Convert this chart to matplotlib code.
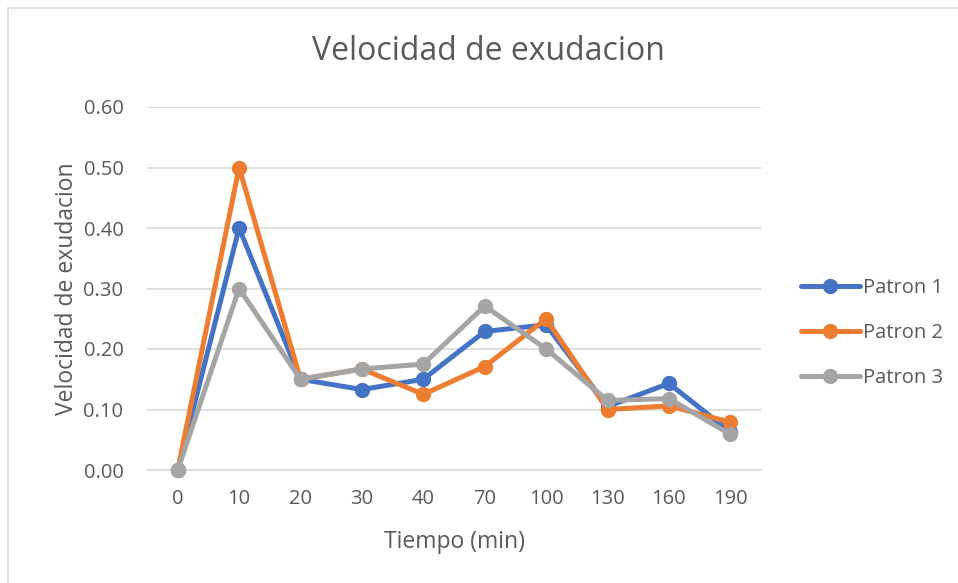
import matplotlib.pyplot as plt
from matplotlib.patches import Rectangle

plt.rcParams['font.family'] = ['Open Sans', 'DejaVu Sans']

tiempo = ['0', '10', '20', '30', '40', '70', '100', '130', '160', '190']
patron_1 = [0.0, 0.40, 0.150, 0.133, 0.150, 0.229, 0.240, 0.105, 0.143, 0.063]
patron_2 = [0.0, 0.50, 0.150, 0.167, 0.125, 0.171, 0.250, 0.100, 0.106, 0.079]
patron_3 = [0.0, 0.30, 0.150, 0.167, 0.175, 0.271, 0.200, 0.115, 0.118, 0.059]
y_ticks = [0.0, 0.1, 0.2, 0.3, 0.4, 0.5, 0.6]

series = [('Patron 1', patron_1, '#4472c4'),
          ('Patron 2', patron_2, '#ed7d31'),
          ('Patron 3', patron_3, '#a5a5a5')]

text_color = '#595959'
grid_color = '#d9d9d9'

fig = plt.figure(figsize=(9.58, 5.83), dpi=100)
fig.patches.append(Rectangle((8 / 958, -0.1), 1.2, 1 - 8 / 583 + 0.1,
                             transform=fig.transFigure, fill=False,
                             edgecolor=grid_color, linewidth=1.2))

ax = fig.add_axes([147 / 958, 1 - 470 / 583, 614 / 958, 363 / 583])
x = range(len(tiempo))
for name, vals, color in series:
    ax.plot(x, vals, color=color, linewidth=3.6, marker='o', markersize=10,
            label=name, clip_on=False, zorder=3, solid_capstyle='round')

ax.set_xlim(-0.5, len(tiempo) - 0.5)
ax.set_ylim(0, 0.6)
ax.set_xticks(list(x))
ax.set_xticklabels(tiempo)
ax.set_yticks(y_ticks)
ax.set_yticklabels([f'{v:.2f}' for v in y_ticks])
ax.tick_params(length=0, labelsize=14.5, colors=text_color)
ax.tick_params(axis='x', pad=14)
ax.tick_params(axis='y', pad=17)
ax.yaxis.grid(True, color=grid_color, linewidth=1.2)
ax.set_axisbelow(True)
for side in ['top', 'right', 'left']:
    ax.spines[side].set_visible(False)
ax.spines['bottom'].set_color(grid_color)
ax.spines['bottom'].set_linewidth(1.2)

fig.text(488 / 958, 1 - 52 / 583, 'Velocidad de exudacion', fontsize=23,
         color=text_color, ha='center', va='center')
ax.set_xlabel('Tiempo (min)', fontsize=16.5, color=text_color, labelpad=15)
ax.set_ylabel('Velocidad de exudacion', fontsize=16.5, color=text_color, labelpad=3)

leg = ax.legend(loc='center left', bbox_to_anchor=(1.035, 0.377), frameon=False,
                fontsize=14.5, labelcolor=text_color, handlelength=2.95,
                handletextpad=0.15, labelspacing=1.25)

fig.savefig('out.png', dpi=100)
